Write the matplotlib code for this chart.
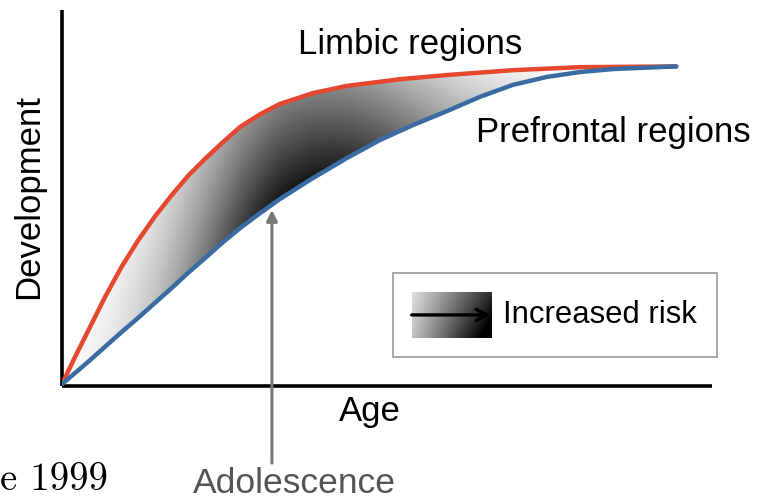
import numpy as np
import matplotlib.pyplot as plt
from matplotlib.patches import Polygon, Rectangle

# curves (age in arbitrary units 0-10, development 0-100)
limbic_age = [0.0, 0.2, 0.4, 0.66, 0.92, 1.17, 1.43, 1.69, 1.94, 2.2, 2.46, 2.74,
              3.05, 3.35, 3.86, 4.38, 5.2, 5.92, 6.94, 7.97, 9.45]
limbic_dev = [0.5, 7.7, 14.6, 23.6, 31.8, 38.7, 45.1, 50.8, 55.9, 60.4, 64.6, 68.9,
              72.3, 75.0, 77.9, 79.8, 81.6, 82.7, 84.0, 84.8, 85.0]

prefrontal_age = [0.0, 0.4, 0.66, 0.92, 1.17, 1.43, 1.69, 1.94, 2.2, 2.46, 2.74, 3.05,
                  3.35, 3.86, 4.38, 4.89, 5.4, 5.92, 6.43, 6.94, 7.46, 7.97, 8.48, 9.45]
prefrontal_dev = [0.5, 6.4, 10.4, 14.4, 18.1, 22.1, 26.1, 30.1, 34.0, 38.0, 42.0, 46.0,
                  49.7, 55.3, 60.6, 65.4, 69.4, 73.1, 76.9, 80.1, 82.2, 83.5, 84.3, 85.0]

adolescence_age = 3.23

red = "#e5472f"
blue = "#3a6ca3"
font = "Liberation Sans"

fig = plt.figure(figsize=(7.71, 4.99), dpi=100)
ax = fig.add_axes([62 / 771, 113 / 499, 650 / 771, 376 / 499])
ax.set_xlim(0, 10)
ax.set_ylim(0, 100)
for s in ["top", "right"]:
    ax.spines[s].set_visible(False)
for s in ["left", "bottom"]:
    ax.spines[s].set_linewidth(2.6)
    ax.spines[s].set_color("black")
    ax.spines[s].set_capstyle("butt")
ax.set_xticks([])
ax.set_yticks([])

# gradient shading between the two curves
gx = np.linspace(0, 10, 400)
gy = np.linspace(0, 100, 400)
X, Y = np.meshgrid(gx, gy)
top = np.interp(X, limbic_age, limbic_dev)
bot = np.interp(X, prefrontal_age, prefrontal_dev)
t = np.clip((top - Y) / np.maximum(top - bot, 1e-6), 0, 1)
w = np.where(X < 3.6, 1.9, 2.3)
dark = np.exp(-((X - 3.6) / w) ** 2) * (0.55 + 0.45 * t)
shade = 1 - 0.92 * dark
im = ax.imshow(shade, extent=[0, 10, 0, 100], origin="lower", cmap="gray",
               vmin=0, vmax=1, aspect="auto", zorder=1)
poly = Polygon(list(zip(limbic_age, limbic_dev)) +
               list(zip(prefrontal_age, prefrontal_dev))[::-1],
               closed=True, facecolor="none", edgecolor="none")
ax.add_patch(poly)
im.set_clip_path(poly)

ax.plot(limbic_age, limbic_dev, color=red, lw=3.2, solid_capstyle="round",
        solid_joinstyle="round", zorder=3)
ax.plot(prefrontal_age, prefrontal_dev, color=blue, lw=3.2, solid_capstyle="round",
        solid_joinstyle="round", zorder=3)

# labels
ax.text(5.35, 90.7, "Limbic regions", fontsize=25, family=font,
        ha="center", va="center")
ax.text(8.48, 67.3, "Prefrontal regions", fontsize=25, family=font,
        ha="center", va="center")
ax.text(4.74, -6.9, "Age", fontsize=25, family=font,
        ha="center", va="center", clip_on=False)
ax.text(-0.52, 50.3, "Development", fontsize=25, family=font,
        ha="center", va="center", rotation=90, clip_on=False)

# adolescence arrow
ax.annotate("", xy=(adolescence_age, 46.8), xytext=(adolescence_age, -20.5),
            arrowprops=dict(arrowstyle="-|>", color="#777777", lw=2.2,
                            mutation_scale=16, shrinkA=0, shrinkB=0),
            annotation_clip=False, zorder=4)
ax.text(3.58, -25.8, "Adolescence", fontsize=25.5, family=font,
        color="#555555", ha="center", va="center", clip_on=False)

fig.text(0.0, 19 / 499, "e 1999", fontsize=28, family="cmr10",
         ha="left", va="center")

# legend box
box = Rectangle((5.09, 7.7), 4.99, 22.35, facecolor="white", edgecolor="#a8a8a8",
                lw=1.4, clip_on=False, zorder=5)
ax.add_patch(box)
sx = np.linspace(0, 1, 60)
sy = np.linspace(0, 1, 40)
SX, SY = np.meshgrid(sx, sy)
sdark = np.clip(0.12 + 0.7 * SX + 0.3 * (1 - SY) * (0.4 + 0.6 * SX), 0, 1)
ax.imshow(1 - sdark, extent=[5.38, 6.6, 12.8, 25.0], origin="lower", cmap="gray",
          vmin=0, vmax=1, aspect="auto", zorder=6, clip_on=False)
ax.annotate("", xy=(6.6, 18.9), xytext=(5.38, 18.9),
            arrowprops=dict(arrowstyle="->", color="black", lw=2.4,
                            mutation_scale=20, shrinkA=0, shrinkB=0),
            annotation_clip=False, zorder=7)
ax.text(6.78, 18.9, "Increased risk", fontsize=22.3, family=font,
        ha="left", va="center", zorder=7)

ax.set_xlim(0, 10)
ax.set_ylim(0, 100)
fig.savefig("out.png", dpi=100)
